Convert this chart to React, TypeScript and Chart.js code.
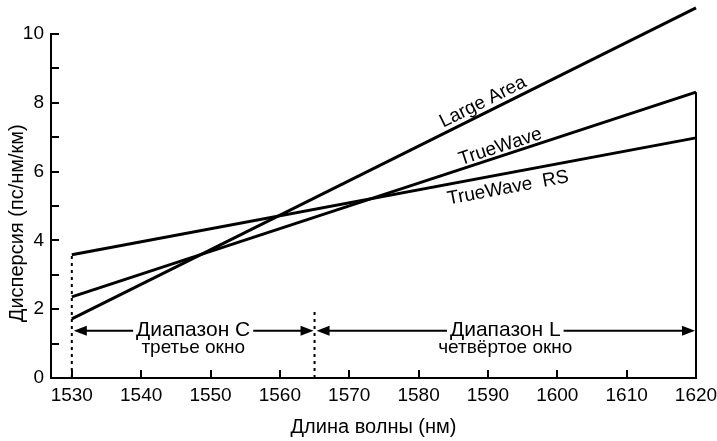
import React, { useEffect, useRef } from 'react';
import { Chart, registerables } from 'chart.js';

Chart.register(...registerables);

// ---- data ----
const wavelengths = [1530, 1620];
const largeArea = [1.72, 10.76];
const trueWave = [2.36, 8.31];
const trueWaveRS = [3.58, 6.98];

const seriesNames = ['Large Area', 'TrueWave', 'TrueWave  RS'];
const seriesLabelX = [1589.3, 1591.8, 1592.9];
const seriesLabelY = [8.02, 6.72, 5.52];

const xTicks = [1530, 1540, 1550, 1560, 1570, 1580, 1590, 1600, 1610, 1620];
const yTicks = [0, 1, 2, 3, 4, 5, 6, 7, 8, 9, 10];

const bandEdges = [1530, 1565, 1620];
const bandNames = ['Диапазон C', 'Диапазон L'];
const bandWindows = ['третье окно', 'четвёртое окно'];
const bandArrowLevel = 1.37;
const markerX = [1530, 1565];
const markerTop = [3.58, 1.92];

const xTitle = 'Длина волны (нм)';
const yTitle = 'Дисперсия (пс/нм/км)';

const FONT = '"Liberation Sans", Arial, Helvetica, sans-serif';

export default function App() {
  const ref = useRef<HTMLCanvasElement | null>(null);

  useEffect(() => {
    document.body.style.margin = '0';
    const canvas = ref.current;
    if (!canvas) return;

    const pts = (xs: number[], ys: number[]) => xs.map((x, i) => ({ x, y: ys[i] }));
    const seriesData = [largeArea, trueWave, trueWaveRS];

    const overlay = {
      id: 'overlay',
      afterDatasetsDraw(chart: any) {
        const ctx = chart.ctx as CanvasRenderingContext2D;
        const xs = chart.scales.x;
        const ys = chart.scales.y;
        const area = chart.chartArea;
        ctx.save();
        ctx.strokeStyle = '#000';
        ctx.fillStyle = '#000';

        // inward tick marks
        ctx.lineWidth = 2;
        ctx.beginPath();
        xs.ticks.forEach((t: any) => {
          const px = Math.round(xs.getPixelForValue(t.value));
          ctx.moveTo(px, area.bottom);
          ctx.lineTo(px, area.bottom - 8);
        });
        ys.ticks.forEach((t: any) => {
          const py = Math.round(ys.getPixelForValue(t.value));
          ctx.moveTo(area.left, py);
          ctx.lineTo(area.left + 8, py);
        });
        ctx.stroke();

        // band arrows
        const ay = ys.getPixelForValue(bandArrowLevel);
        const head = (tipX: number, dir: number) => {
          ctx.beginPath();
          ctx.moveTo(tipX, ay);
          ctx.lineTo(tipX - dir * 13, ay - 5);
          ctx.lineTo(tipX - dir * 13, ay + 5);
          ctx.closePath();
          ctx.fill();
        };
        for (let i = 0; i < bandNames.length; i++) {
          const x0 = xs.getPixelForValue(bandEdges[i]) + 2;
          const x1 = xs.getPixelForValue(bandEdges[i + 1]) - 1;
          ctx.lineWidth = 2;
          ctx.beginPath();
          ctx.moveTo(x0 + 6, ay);
          ctx.lineTo(x1 - 6, ay);
          ctx.stroke();
          head(x0, -1);
          head(x1, 1);
          const mid = xs.getPixelForValue((bandEdges[i] + bandEdges[i + 1]) / 2);
          ctx.font = `21px ${FONT}`;
          const w = ctx.measureText(bandNames[i]).width;
          ctx.fillStyle = '#fff';
          ctx.fillRect(mid - w / 2 - 3, ay - 4, w + 6, 8);
          ctx.fillStyle = '#000';
          ctx.textAlign = 'center';
          ctx.textBaseline = 'middle';
          ctx.fillText(bandNames[i], mid, ay - 1);
          ctx.font = `19px ${FONT}`;
          ctx.fillText(bandWindows[i], mid, ay + 17);
        }

        // series labels along lines
        ctx.font = `19px ${FONT}`;
        ctx.textAlign = 'center';
        ctx.textBaseline = 'middle';
        for (let i = 0; i < seriesNames.length; i++) {
          const d = seriesData[i];
          const ang = Math.atan2(
            ys.getPixelForValue(d[1]) - ys.getPixelForValue(d[0]),
            xs.getPixelForValue(wavelengths[1]) - xs.getPixelForValue(wavelengths[0])
          );
          ctx.save();
          ctx.translate(xs.getPixelForValue(seriesLabelX[i]), ys.getPixelForValue(seriesLabelY[i]));
          ctx.rotate(ang);
          ctx.fillText(seriesNames[i], 0, 0);
          ctx.restore();
        }

        // y axis title
        ctx.save();
        ctx.font = `20px ${FONT}`;
        ctx.translate(17, ys.getPixelForValue(4.5));
        ctx.rotate(-Math.PI / 2);
        ctx.fillText(yTitle, 0, 0);
        ctx.restore();

        ctx.restore();
      },
    };

    const lineStyle = {
      borderColor: '#000',
      pointRadius: 0,
      clip: false as any,
      fill: false,
    };

    const chart = new Chart(canvas, {
      type: 'line',
      data: {
        datasets: [
          { ...lineStyle, label: seriesNames[0], data: pts(wavelengths, largeArea), borderWidth: 3 },
          { ...lineStyle, label: seriesNames[1], data: pts(wavelengths, trueWave), borderWidth: 3 },
          { ...lineStyle, label: seriesNames[2], data: pts(wavelengths, trueWaveRS), borderWidth: 3 },
          {
            ...lineStyle,
            label: 'boundary',
            data: pts([wavelengths[1], wavelengths[1]], [0, trueWave[1]]),
            borderWidth: 2,
          },
          ...markerX.map((mx, i) => ({
            ...lineStyle,
            label: 'marker' + i,
            data: pts([mx, mx], [0, markerTop[i]]),
            borderWidth: 2,
            borderDash: [3, 4],
          })),
        ],
      },
      options: {
        animation: false,
        responsive: false,
        layout: { padding: { top: 34, right: 21, left: 0, bottom: 0 } },
        plugins: { legend: { display: false }, tooltip: { enabled: false } },
        scales: {
          x: {
            type: 'linear',
            min: 1527,
            max: 1620,
            afterBuildTicks: (s: any) => {
              s.ticks = xTicks.map((v) => ({ value: v }));
            },
            afterFit: (s: any) => {
              s.height = 63;
              s.paddingLeft = 0;
              s.paddingRight = 0;
            },
            grid: { display: false, drawTicks: false },
            border: { display: true, color: '#000', width: 2 },
            ticks: {
              color: '#000',
              padding: 6,
              maxRotation: 0,
              autoSkip: false,
              font: { family: FONT, size: 19 },
              callback: (v: any) => String(v),
            },
            title: {
              display: true,
              text: xTitle,
              color: '#000',
              font: { family: FONT, size: 20 },
              padding: { top: 0, bottom: 2 },
            },
          },
          y: {
            type: 'linear',
            min: 0,
            max: 10,
            afterBuildTicks: (s: any) => {
              s.ticks = yTicks.map((v) => ({ value: v }));
            },
            afterFit: (s: any) => {
              s.width = 51;
              s.paddingTop = 0;
              s.paddingBottom = 0;
            },
            grid: { display: false, drawTicks: false },
            border: { display: true, color: '#000', width: 2 },
            ticks: {
              color: '#000',
              padding: 7,
              autoSkip: false,
              font: { family: FONT, size: 19 },
              callback: (v: any) => (Number(v) % 2 === 0 ? String(v) : ''),
            },
          },
        },
      },
      plugins: [overlay],
    });

    return () => chart.destroy();
  }, []);

  return (
    <div style={{ width: 717, height: 441, background: '#fff' }}>
      <canvas ref={ref} width={717} height={441} style={{ display: 'block', width: 717, height: 441 }} />
    </div>
  );
}
